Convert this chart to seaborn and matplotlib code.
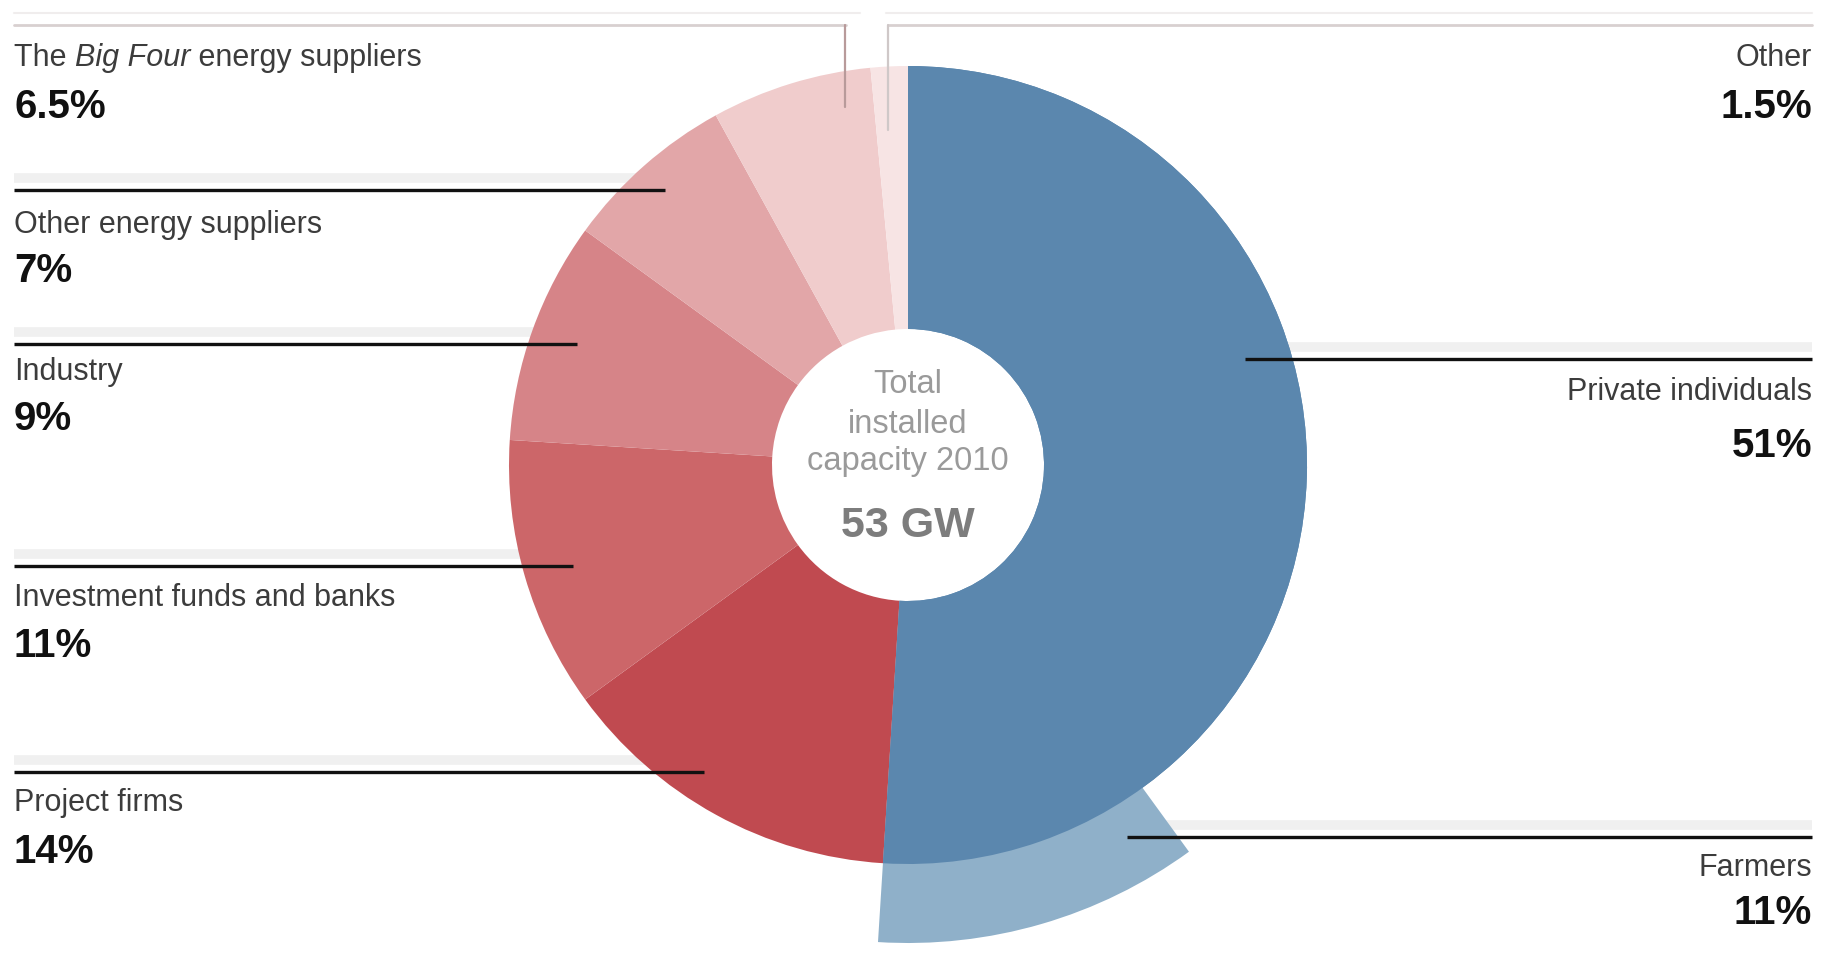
import matplotlib
matplotlib.use("Agg")
import matplotlib.pyplot as plt
import seaborn as sns

# ---------------- data ----------------
main_labels = ["Private individuals", "Project firms", "Investment funds and banks",
               "Industry", "Other energy suppliers", "The Big Four energy suppliers", "Other"]
main_values = [51, 14, 11, 9, 7, 6.5, 1.5]
main_colors = ["#5b87ae", "#c04a50", "#cc6669", "#d68488", "#e2a6a8", "#f0cccc", "#f7e4e4"]

sub_label = "Farmers"          # part of "Private individuals"
sub_value = 11
sub_color = "#8fb0c9"

center_lines = ["Total", "installed", "capacity 2010"]
center_total = "53 GW"

# ---------------- layout ----------------
W, H = 1845, 955
sns.set_theme(style="white")
plt.rcParams["font.family"] = ["Liberation Sans", "DejaVu Sans"]

fig = plt.figure(figsize=(W / 100, H / 100), dpi=100)
ax = fig.add_axes([0, 0, 1, 1])

def Y(y):  # image row -> data y
    return H - y

cx, cy = 908, Y(465)
R, r_in, R_sub = 399, 136, 478

ax.pie(main_values, colors=main_colors, startangle=90, counterclock=False,
       radius=R, center=(cx, cy),
       wedgeprops=dict(width=R - r_in, linewidth=0, antialiased=True, zorder=2))

# Farmers: outer ring segment starting where "Private individuals" ends
start = 90 - 360 * main_values[0] / 100
ax.pie([sub_value, 100 - sub_value], colors=[sub_color, "none"], startangle=start,
       counterclock=True, radius=R_sub, center=(cx, cy),
       wedgeprops=dict(width=R_sub - R + 2, linewidth=0, zorder=2))
ax.pie([main_values[0], 100 - main_values[0]], colors=[main_colors[0], "none"],
       startangle=90, counterclock=False, radius=R, center=(cx, cy),
       wedgeprops=dict(width=R - r_in, linewidth=0, zorder=2))

ax.set_xlim(0, W)
ax.set_ylim(0, H)
ax.set_aspect("equal")
ax.axis("off")

name_kw = dict(fontsize=22, color="#3c3c3c")
pct_kw = dict(fontsize=29, color="#111111", fontweight="bold", va="baseline")

band_col = "#f0f0f0"
def leader(y, x0, x1):
    ax.plot([x0, x1], [Y(y - 12), Y(y - 12)], color=band_col, lw=7, solid_capstyle="butt", zorder=1)
    ax.plot([x0, x1], [Y(y), Y(y)], color="#111111", lw=2.4, solid_capstyle="butt", zorder=5)

# top gray guide lines (Big Four and Other)
ax.plot([14, 860], [Y(13), Y(13)], color="#f0eded", lw=1.5)
ax.plot([886, 1812], [Y(13), Y(13)], color="#f0eded", lw=1.5)
ax.plot([14, 846], [Y(25), Y(25)], color="#d8d0d0", lw=2)
ax.plot([888, 1812], [Y(25), Y(25)], color="#d8d0d0", lw=2)
ax.plot([845, 845], [Y(25), Y(107)], color="#b89a9a", lw=1.6, zorder=5)
ax.plot([888, 888], [Y(25), Y(130)], color="#cfc8c8", lw=1.6, zorder=5)

LX, RX = 14, 1812

left = [
    (main_labels[5], main_values[5], 66, 118, None, None),
    (main_labels[4], main_values[4], 233, 282, 190, 665),
    (main_labels[3], main_values[3], 380, 430, 344, 577),
    (main_labels[2], main_values[2], 606, 657, 566, 573),
    (main_labels[1], main_values[1], 811, 863, 772, 704),
]
for name, val, yn, yp, yl, xe in left:
    if yl is not None:
        leader(yl, LX, xe)
    if name.startswith("The Big Four"):
        t0 = ax.text(LX, Y(yn), "The ", ha="left", va="baseline", **name_kw)
        t1 = ax.annotate("Big Four", xy=(1, 0), xycoords=t0, ha="left", va="bottom",
                         fontstyle="italic", **name_kw)
        ax.annotate(" energy suppliers", xy=(1, 0), xycoords=t1, ha="left", va="bottom",
                    **name_kw)
    else:
        ax.text(LX, Y(yn), name, ha="left", va="baseline", **name_kw)
    ax.text(LX, Y(yp), f"{val:g}%", ha="left", **pct_kw)

right = [
    (main_labels[6], main_values[6], 66, 118, None, None),
    (main_labels[0], main_values[0], 400, 457, 359, 1245),
    (sub_label, sub_value, 876, 924, 837, 1127),
]
for name, val, yn, yp, yl, xs in right:
    if yl is not None:
        leader(yl, xs, RX)
    ax.text(RX, Y(yn), name, ha="right", va="baseline", **name_kw)
    ax.text(RX, Y(yp), f"{val:g}%", ha="right", **pct_kw)

# centre text
for line, yb in zip(center_lines, [393, 433, 470]):
    ax.text(cx, Y(yb), line, ha="center", va="baseline", fontsize=23.5, color="#9a9a9a")
ax.text(cx, Y(537), center_total, ha="center", va="baseline", fontsize=31,
        fontweight="bold", color="#7d7d7d")

fig.savefig("out.png", dpi=100, facecolor="white")
